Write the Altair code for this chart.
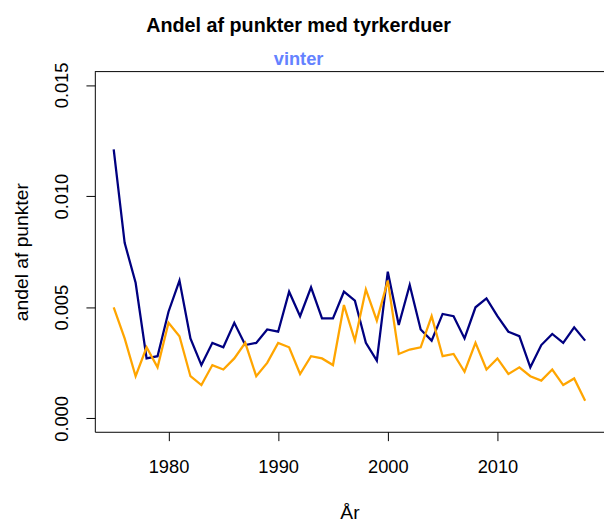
import altair as alt
import pandas as pd

years = list(range(1975, 2019))
serie_navy = [0.0121, 0.0079, 0.0061, 0.0027, 0.0028, 0.0048, 0.0062, 0.0036, 0.0024, 0.0034,
              0.0032, 0.0043, 0.0033, 0.0034, 0.0040, 0.0039, 0.0057, 0.0046, 0.0059, 0.0045,
              0.0045, 0.0057, 0.0053, 0.0034, 0.0026, 0.0066, 0.0042, 0.0060, 0.0040, 0.0035,
              0.0047, 0.0046, 0.0036, 0.0050, 0.0054, 0.0046, 0.0039, 0.0037, 0.0023, 0.0033,
              0.0038, 0.0034, 0.0041, 0.0035]
serie_orange = [0.0050, 0.0036, 0.0019, 0.0032, 0.0023, 0.0043, 0.0037, 0.0019, 0.0015, 0.0024,
                0.0022, 0.0027, 0.0034, 0.0019, 0.0025, 0.0034, 0.0032, 0.0020, 0.0028, 0.0027,
                0.0024, 0.0051, 0.0035, 0.0058, 0.0044, 0.0062, 0.0029, 0.0031, 0.0032, 0.0046,
                0.0028, 0.0029, 0.0021, 0.0034, 0.0022, 0.0027, 0.0020, 0.0023, 0.0019, 0.0017,
                0.0022, 0.0015, 0.0018, 0.0008]
series_names = ["serie 1", "serie 2"]
series_colors = ["#000080", "#FFA500"]
x_ticks = [1980, 1990, 2000, 2010]
y_ticks = [0.0, 0.005, 0.010, 0.015]

df = pd.DataFrame({
    "År": years + years,
    "andel": serie_navy + serie_orange,
    "serie": [series_names[0]] * len(years) + [series_names[1]] * len(years),
})

FONT = "Liberation Sans"
W, H = 516, 365

lines = alt.Chart(df).mark_line(strokeWidth=2.3, clip=True).encode(
    x=alt.X("År:Q",
            scale=alt.Scale(domain=[1973.28, 2019.72], nice=False, zero=False),
            axis=alt.Axis(values=x_ticks, format="d", title="År", grid=False,
                          tickSize=9, labelPadding=32.7, labelBaseline="alphabetic",
                          labelFontSize=18.5, titleFontSize=19.5,
                          titleBaseline="alphabetic", titleY=87.7, titleX=W / 2,
                          titleAlign="center")),
    y=alt.Y("andel:Q",
            scale=alt.Scale(domain=[-0.0006, 0.0156], nice=False, zero=False),
            axis=alt.Axis(values=y_ticks, format=".3f", title="andel af punkter", grid=False,
                          tickSize=9, labelAngle=270, labelAlign="center",
                          labelBaseline="alphabetic", labelPadding=19,
                          labelFontSize=18.5, titleFontSize=19.5,
                          titleAngle=270, titleAlign="center", titleBaseline="alphabetic",
                          titleX=-68, titleY=H / 2)),
    color=alt.Color("serie:N", scale=alt.Scale(domain=series_names, range=series_colors),
                    legend=None),
)

top_border = alt.Chart(pd.DataFrame({"a": [0]})).mark_rule(color="black", strokeWidth=1).encode(
    x=alt.value(0), x2=alt.value(W), y=alt.value(0)
)

chart = alt.layer(lines, top_border).properties(
    width=W, height=H,
    autosize=alt.AutoSizeParams(type="none"),
    padding={"left": 88, "top": 61, "right": 0, "bottom": 90},
    title=alt.TitleParams(
        text="Andel af punkter med tyrkerduer",
        subtitle="vinter",
        font=FONT, fontSize=20, fontWeight="bold", color="black",
        subtitleFont=FONT, subtitleFontSize=18.5, subtitleFontWeight="bold",
        subtitleColor="#6482ff",
        anchor="middle", frame="group", dx=-51.5, offset=-6, subtitlePadding=14,
    ),
).configure_view(stroke=None).configure_axis(
    labelFont=FONT, titleFont=FONT, labelColor="black", titleColor="black",
    domainColor="black", tickColor="black", domainWidth=1, tickWidth=1,
    titleFontWeight="normal", labelOverlap=False, labelFlush=False,
)

chart.save("out.html", embed_options={"renderer": "svg", "actions": False})
